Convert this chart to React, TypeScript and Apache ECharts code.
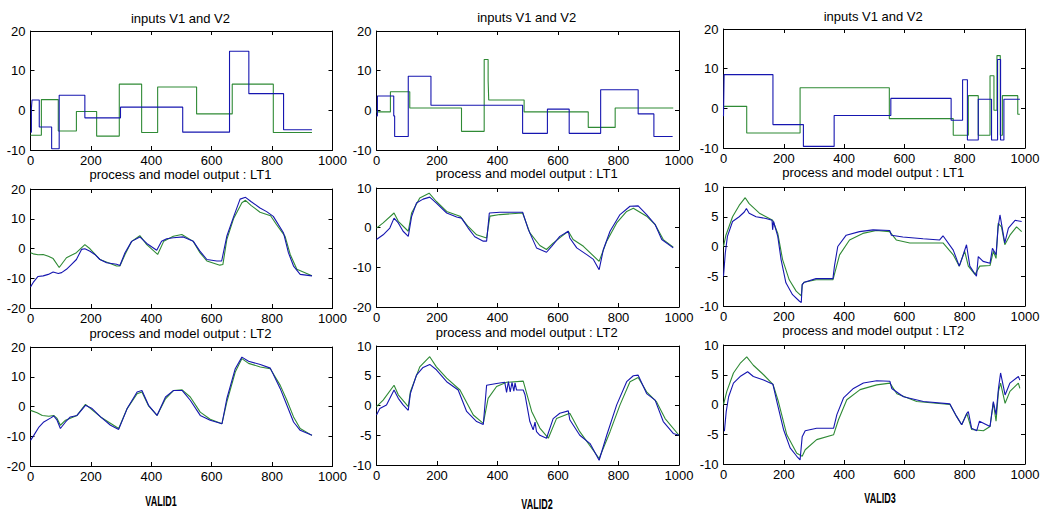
import React, { useEffect, useRef } from "react";
import * as echarts from "echarts";

// ---------- labels / ticks ----------
const rowTitles = ["inputs V1 and V2", "process and model output : LT1", "process and model output : LT2"];
const caseLabels = ["VALID1", "VALID2", "VALID3"];
const xRange = [0, 1000, 200];
// [min, max, interval] per column, per row
const yRangesValid1 = [[-10, 20, 10], [-20, 20, 10], [-20, 20, 10]];
const yRangesValid2 = [[-10, 20, 10], [-20, 10, 10], [-10, 10, 5]];
const yRangesValid3 = [[-10, 20, 10], [-10, 10, 5], [-10, 10, 5]];

// ---------- VALID1 ----------
const v1Valid1 = [[0, -5.5], [3, 0.5], [5, 2.6], [29, -4.2], [70, -9.7], [95, 3.8], [180, -1.9], [298, 0.8], [504, -5.5], [659, 14.9], [723, 4.2], [838, -4.9], [932, -4.9]];
const v2Valid1 = [[0, -6.3], [36, 2.7], [92, -5.2], [152, -0.3], [219, -6.5], [294, 6.6], [368, -5.6], [421, 5.9], [550, -0.9], [668, 6.6], [804, -5.6], [932, -5.6]];
const lt1ProcValid1 = [[0, -12.9], [9, -11.4], [25, -9.4], [42, -9.2], [59, -8.7], [75, -7.9], [92, -8.4], [103, -8.1], [119, -7], [136, -5.3], [152, -3.7], [169, -0.3], [180, -0.1], [197, -0.9], [213, -2], [230, -3.7], [252, -4.8], [285, -5.3], [296, -5.7], [313, -1.4], [335, 2.4], [362, 3.9], [385, 1.7], [418, -0.6], [434, 2.4], [451, 3.3], [473, 3.6], [506, 3.9], [539, 2.4], [561, -0.9], [584, -3.7], [617, -4.2], [633, -4.2], [650, 4.1], [673, 10.8], [694, 16.6], [712, 17.2], [730, 15.8], [760, 13.6], [782, 12.4], [804, 10.8], [838, 5.2], [854, -1.4], [871, -5.9], [893, -8.7], [932, -9.2]];
const lt1ModelValid1 = [[0, -1.4], [9, -1.8], [25, -2.1], [42, -2], [59, -2.6], [75, -3.4], [95, -6.4], [119, -3.1], [152, -1.4], [180, 1.3], [197, -0.1], [230, -3.7], [285, -5.9], [296, -5.9], [313, -2], [335, 2.4], [362, 4.3], [385, 1.3], [421, -2], [441, 2.4], [473, 4.1], [501, 4.7], [539, 2.4], [561, -1.4], [584, -4.2], [627, -5.6], [637, -5.4], [650, 3], [673, 10.2], [700, 15.4], [712, 16.2], [730, 14.5], [760, 12.2], [795, 11], [815, 8], [843, 4.1], [860, -2], [882, -7], [932, -9.2]];
const lt2ProcValid1 = [[0, -11.4], [11, -9.7], [28, -6.9], [44, -5.2], [66, -3.9], [77, -3.2], [88, -4.6], [99, -7.4], [116, -5.2], [132, -3.5], [154, -3], [182, 0.4], [204, -0.7], [232, -3.5], [265, -6.3], [292, -7.7], [320, -0.7], [353, 4.9], [369, 5.4], [391, 0.4], [419, -3], [447, 3.2], [474, 5.4], [502, 5.4], [529, 2.1], [562, -3], [595, -4.6], [634, -5.8], [650, 2.6], [678, 12.7], [700, 16.6], [722, 15.2], [761, 14.1], [794, 12.9], [827, 6], [849, 0.4], [871, -5.2], [893, -8], [932, -9.7]];
const lt2ModelValid1 = [[0, -1.3], [22, -2.1], [39, -3], [61, -3.3], [77, -3], [88, -4], [99, -6.3], [116, -4.6], [154, -3], [182, 0.7], [232, -3.5], [292, -7.4], [320, -0.7], [353, 4.3], [369, 4.9], [391, 0.2], [419, -3], [447, 2.6], [474, 5.4], [502, 5.6], [529, 3.2], [562, -1.9], [595, -4.3], [634, -5.8], [650, 1.5], [678, 11.6], [700, 16.1], [722, 14.5], [761, 13.3], [794, 12.7], [827, 7.1], [849, 2.1], [871, -3.5], [893, -7.4], [932, -9.7]];

// ---------- VALID2 ----------
const v1Valid2 = [[0, -1.4], [3, 3.6], [57, -1.4], [60, -6.6], [105, 8.6], [180, 1.3], [483, -5.8], [565, 0.3], [637, -5.8], [741, 5.2], [865, -0.9], [917, -6.6], [979, -6.6]];
const v2Valid2 = [[0, -0.4], [46, 4.7], [110, 0.6], [281, -5.3], [356, 12.8], [369, 7.5], [371, 2.6], [488, -0.4], [700, -4.3], [789, 0.6], [981, 0.6]];
const lt1ProcValid2 = [[0, -3], [22, -1.8], [44, -0.1], [58, 2.4], [72, 1.2], [88, -0.9], [105, -2.2], [116, 2.8], [132, 6.2], [154, 7.2], [176, 7.7], [198, 6.2], [232, 3.7], [265, 2.7], [281, 2.4], [303, -0.1], [325, -2.3], [353, -3.4], [364, -3.4], [373, 3.7], [408, 3.9], [483, 3.9], [502, -0.5], [529, -5.1], [562, -6.2], [579, -4.7], [606, -2.2], [634, -0.9], [639, -2.6], [662, -5.1], [695, -6.8], [717, -8], [736, -10.6], [750, -5.5], [772, -0.9], [805, 3.3], [838, 5.4], [865, 5.5], [893, 3.3], [921, 0.8], [943, -3], [981, -5.1]];
const lt1ModelValid2 = [[0, -0.1], [22, 1.2], [58, 3.7], [72, 1.6], [105, -0.9], [116, 3.7], [143, 7.5], [174, 8.7], [198, 6.6], [232, 4.1], [276, 2.9], [303, 0.3], [331, -1.8], [364, -2.6], [375, 2.9], [408, 3.3], [483, 3.7], [507, -1.3], [540, -4.5], [562, -5.5], [584, -3.9], [612, -2.2], [634, -0.9], [650, -3], [684, -4.7], [736, -8.5], [761, -3.4], [794, 1.2], [827, 4.1], [849, 4.9], [893, 2.9], [921, 0.8], [948, -3], [981, -4.9]];
const lt2ProcValid2 = [[0, -1.6], [11, -0.5], [33, 0.1], [58, 2.6], [72, 1.2], [88, 0.1], [105, -0.8], [112, 2], [132, 5.1], [154, 6.4], [176, 6.9], [198, 6], [232, 4], [270, 2.6], [298, -1], [331, -2.7], [353, -3.2], [364, 3.4], [397, 3.7], [424, 3.9], [430, 2.2], [436, 4], [442, 2.3], [448, 3.9], [454, 2.4], [458, 3.8], [463, 2.6], [485, 2.6], [491, 1.8], [507, -2.7], [518, -4.1], [524, -2.8], [529, -4.4], [540, -5], [562, -5.5], [584, -2.2], [606, -1.3], [634, -0.9], [639, -2.4], [672, -5], [706, -6.4], [736, -9.2], [761, -5], [794, 0.1], [827, 4], [849, 5], [865, 5.1], [893, 2], [921, 0.9], [948, -2.7], [981, -4.7], [1000, -5]];
const lt2ModelValid2 = [[0, -0.2], [22, 0.9], [58, 3.4], [72, 1.8], [105, -0.2], [112, 2.3], [143, 6.5], [176, 8.2], [198, 6.5], [232, 4.6], [276, 2.6], [320, -1.6], [353, -3], [369, 1.2], [397, 3.2], [430, 3.9], [485, 4.1], [513, -1], [540, -3.8], [568, -5.5], [595, -2.2], [639, -1.3], [672, -4.4], [736, -8.9], [772, -4.4], [805, 0.1], [838, 4], [865, 4.7], [893, 2.3], [926, 0.6], [954, -2.2], [1000, -5]];

// ---------- VALID3 ----------
const v1Valid3 = [[0, -2], [2, 8.5], [164, -4.1], [265, -9.6], [367, -1.8], [555, 2.5], [755, -3.0], [793, 7.2], [809, -8.0], [845, 2.3], [889, -8.0], [909, 12.3], [919, -8.0], [930, 2.3], [983, 2.3]];
const v2Valid3 = [[0, 0.5], [77, -6.2], [254, 5.2], [550, -2.6], [762, -6.8], [812, 3.2], [845, -6.8], [884, 8.2], [897, -0.5], [907, 13.3], [918, -6.8], [925, 3.2], [976, -1.5], [983, -1.5]];
const lt1ProcValid3 = [[0, -5], [6, -1.1], [13, 1.7], [30, 4.2], [52, 5], [69, 5.8], [76, 6.4], [85, 5.6], [108, 5], [141, 4.7], [161, 4.4], [163, 2.8], [166, 4.2], [180, 1.7], [191, -2.2], [207, -6.1], [229, -8.1], [252, -9.2], [258, -9.4], [261, -6.4], [268, -6], [307, -5.4], [363, -5.4], [368, -3.3], [379, 0], [407, 1.9], [451, 2.5], [496, 2.8], [551, 2.7], [557, 1.9], [595, 1.6], [662, 1.3], [717, 1.1], [728, 1.8], [762, -0.6], [782, -3.3], [797, -1.1], [806, 0.3], [817, -3.3], [839, -5], [845, -1.7], [861, -2.5], [884, -2.8], [892, -0.3], [904, -1.4], [911, 3.3], [917, 5.3], [933, 0.6], [945, 3.1], [967, 4.4], [989, 4.2]];
const lt1ModelValid3 = [[0, 0], [8, 1.9], [30, 5], [52, 6.9], [72, 8.2], [85, 7.2], [119, 5.6], [163, 4.4], [180, 2.2], [196, -2.2], [218, -5.6], [241, -7.5], [258, -8.3], [261, -6.4], [268, -6], [307, -5.6], [363, -5.6], [385, -1.4], [418, 1.1], [462, 2.2], [507, 2.7], [551, 2.5], [573, 1.1], [618, 0.6], [728, 0.6], [762, -1.4], [782, -3.3], [800, -0.8], [812, -3.3], [834, -4.7], [850, -3.3], [884, -3.2], [895, -0.8], [904, -2], [911, 3.9], [922, 3.3], [933, 0.3], [950, 1.9], [972, 3.3], [989, 2.5]];
const lt2ProcValid3 = [[3, -4.5], [9, -1.2], [17, 1.3], [33, 3.6], [55, 4.7], [80, 5.5], [99, 4.7], [133, 4.1], [164, 3.4], [177, 0.5], [199, -4.2], [221, -7.3], [243, -8.7], [254, -9.3], [261, -5.4], [271, -4.4], [309, -4], [365, -4], [376, -1.7], [398, 1.1], [431, 2.7], [464, 3.6], [508, 4], [552, 3.9], [558, 2.7], [597, 1.3], [663, 0.5], [751, 0.1], [773, -2], [790, -3.4], [807, -1.5], [812, -1.2], [823, -4], [840, -4.4], [849, -2.8], [884, -3.7], [895, 0.5], [904, -1.7], [912, 2.7], [919, 5.3], [934, 1.6], [950, 3.6], [978, 4.7], [983, 4.1]];
const lt2ModelValid3 = [[0, 0], [11, 2.2], [33, 5.3], [55, 6.9], [77, 8], [99, 6.6], [133, 5], [164, 3.4], [182, 0.5], [210, -5.1], [243, -8.2], [261, -8.7], [271, -7.6], [309, -5.9], [365, -5.1], [381, -2.6], [409, 0.8], [453, 2.5], [508, 3.3], [552, 3.6], [575, 1.8], [641, 0.5], [751, 0], [773, -2], [790, -3.4], [807, -1.5], [823, -4.2], [862, -4.4], [884, -3.7], [895, 0.3], [904, -2.8], [912, 2.2], [919, 3.6], [934, 0.2], [950, 2.2], [978, 3.6], [983, 2.7]];

// ---------- layout (styles only) ----------
const COL_LEFT = [30.5, 376.5, 723.5];
const COL_WIDTH = [302, 302.5, 301.5];
const COL_TOPS = [[31, 189, 347], [31, 188, 346], [29, 187, 345]];
const PLOT_H = 119;
const TITLE_Y = [[18, 174.5, 333], [17.5, 173.5, 332], [16.5, 172, 330]];
const CASE_POS = [[161, 501], [537, 504], [880, 498]];
const BLUE = "#1616b0";
const GREEN = "#2f8a35";
const FONT = "Liberation Sans, Arial, Helvetica, sans-serif";

const cases = [
  { ranges: yRangesValid1, rows: [[v1Valid1, v2Valid1], [lt1ProcValid1, lt1ModelValid1], [lt2ProcValid1, lt2ModelValid1]] },
  { ranges: yRangesValid2, rows: [[v1Valid2, v2Valid2], [lt1ProcValid2, lt1ModelValid2], [lt2ProcValid2, lt2ModelValid2]] },
  { ranges: yRangesValid3, rows: [[v1Valid3, v2Valid3], [lt1ProcValid3, lt1ModelValid3], [lt2ProcValid3, lt2ModelValid3]] },
];

const plain = (v: number) => String(v);

function buildOption() {
  const grid: any[] = [];
  const xAxis: any[] = [];
  const yAxis: any[] = [];
  const series: any[] = [];
  const graphic: any[] = [];
  const axisLine = { show: true, onZero: false, lineStyle: { color: "#000", width: 1 } };
  const axisTick = { show: true, inside: true, length: 4, lineStyle: { color: "#000", width: 1 } };
  const label = { color: "#000", fontSize: 13, fontFamily: FONT, lineHeight: 12, formatter: plain };

  cases.forEach((cs, c) => {
    cs.rows.forEach((pair, r) => {
      const gi = grid.length;
      grid.push({ left: COL_LEFT[c], top: COL_TOPS[c][r], width: COL_WIDTH[c], height: PLOT_H, containLabel: false });
      const [ymin, ymax, yint] = cs.ranges[r];
      const xa = { type: "value", gridIndex: gi, min: xRange[0], max: xRange[1], interval: xRange[2], splitLine: { show: false }, axisLine, axisTick };
      xAxis.push({ ...xa, position: "bottom", axisLabel: { ...label, margin: 4 } });
      xAxis.push({ ...xa, position: "top", axisLabel: { show: false } });
      const ya = { type: "value", gridIndex: gi, min: ymin, max: ymax, interval: yint, splitLine: { show: false }, axisLine, axisTick };
      yAxis.push({ ...ya, position: "left", axisLabel: { ...label, margin: 5 } });
      yAxis.push({ ...ya, position: "right", axisLabel: { show: false } });
      const isStep = r === 0;
      const [blue, green] = pair;
      series.push({
        type: "line", xAxisIndex: gi * 2, yAxisIndex: gi * 2, data: green, step: isStep ? "end" : false,
        showSymbol: false, symbol: "none", lineStyle: { color: GREEN, width: 1.1 }, itemStyle: { color: GREEN }, z: 2,
      });
      series.push({
        type: "line", xAxisIndex: gi * 2, yAxisIndex: gi * 2, data: blue, step: isStep ? "end" : false,
        showSymbol: false, symbol: "none", lineStyle: { color: BLUE, width: 1.1 }, itemStyle: { color: BLUE }, z: 3,
      });
      graphic.push({
        type: "text", x: COL_LEFT[c] + COL_WIDTH[c] / 2 - 1, y: TITLE_Y[c][r],
        style: { text: rowTitles[r], font: `13px ${FONT}`, lineHeight: 12, fill: "#000", textAlign: "center", textVerticalAlign: "middle" },
      });
    });
    graphic.push({
      type: "text", x: CASE_POS[c][0], y: CASE_POS[c][1], scaleX: 0.6,
      style: { text: caseLabels[c], font: `bold 15px ${FONT}`, fill: "#000", textAlign: "center", textVerticalAlign: "middle" },
    });
  });

  return { animation: false, backgroundColor: "#fff", grid, xAxis, yAxis, series, graphic };
}

export default function App() {
  const ref = useRef<HTMLDivElement>(null);
  useEffect(() => {
    if (!ref.current) return;
    const chart = echarts.init(ref.current, undefined, { renderer: "svg" });
    chart.setOption(buildOption() as any);
    return () => chart.dispose();
  }, []);
  return <div ref={ref} style={{ position: "absolute", left: 0, top: 0, width: 1043, height: 513, background: "#fff" }} />;
}
